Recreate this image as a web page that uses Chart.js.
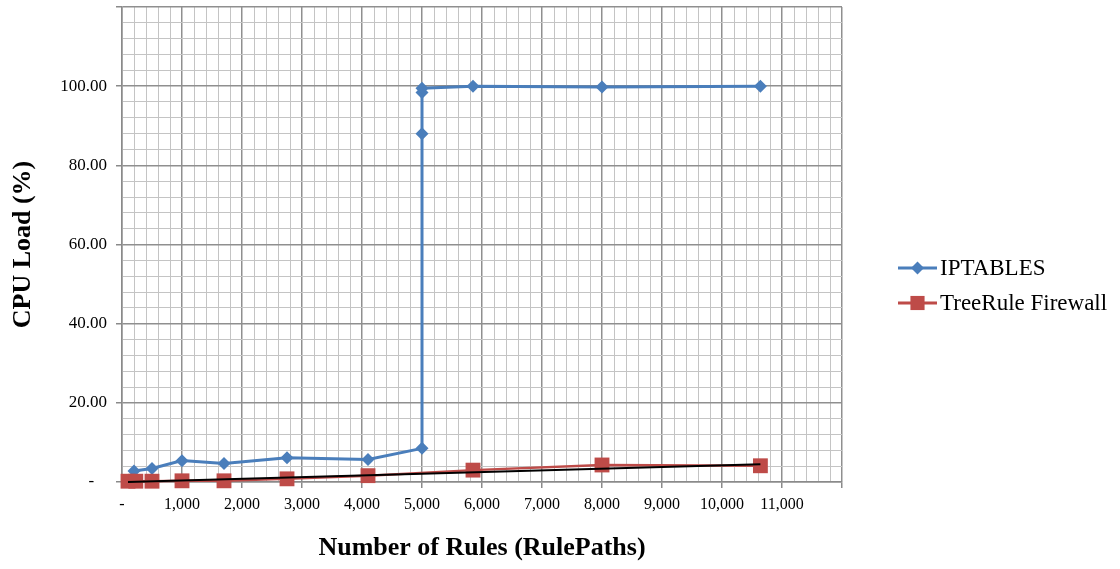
<!DOCTYPE html>
<html>
<head>
<meta charset="utf-8">
<script src="https://cdn.jsdelivr.net/npm/chart.js@4.4.1/dist/chart.umd.min.js"></script>
<style>
  html, body { margin: 0; padding: 0; background: #fff; }
  #wrap { width: 1120px; height: 569px; position: relative; }
</style>
</head>
<body>
<div id="wrap"><canvas id="chart"></canvas></div>
<script>
// ── Data ──────────────────────────────────────────────────────────────────────
const iptRules = [200, 500, 1000, 1700, 2750, 4100, 5000, 5000, 5000, 5000, 5850, 8000, 10640];
const iptLoad  = [2.8, 3.4, 5.4, 4.7, 6.1, 5.7, 8.5, 88.0, 98.4, 99.5, 100.0, 99.8, 100.0];

const treeRules = [100, 230, 500, 1000, 1700, 2750, 4100, 5850, 8000, 10640];
const treeLoad  = [0.2, 0.2, 0.2, 0.3, 0.3, 0.8, 1.6, 3.0, 4.3, 4.1];

// linear trendline of the TreeRule series (end points)
const trendRules = [100, 10640];
const trendLoad  = [0.0, 4.5];

const seriesNames = ["IPTABLES", "TreeRule Firewall"];

const X_MAX = 12000, X_MINOR = 200, X_MAJOR = 1000;
const Y_MAX = 120, Y_MINOR = 4, Y_MAJOR = 20;

// ── Helpers ───────────────────────────────────────────────────────────────────
const FONT = '"Liberation Serif", "Times New Roman", serif';
const BLUE = "#4a7ebb";
const RED = "#be4b48";

function toPoints(xs, ys) {
  return xs.map((x, i) => ({ x: x, y: ys[i] }));
}

function isMajor(v, step) {
  return Math.abs(v / step - Math.round(v / step)) < 1e-6;
}

// Excel-like legend: line + marker, then label
const legendPlugin = {
  id: "excelLegend",
  afterDraw(chart) {
    const ctx = chart.ctx;
    const items = [
      { label: seriesNames[0], color: BLUE, style: "rectRot", r: 6.5, y: 268 },
      { label: seriesNames[1], color: RED, style: "rect", r: 10, y: 303 }
    ];
    ctx.save();
    items.forEach(it => {
      ctx.strokeStyle = it.color;
      ctx.lineWidth = 3;
      ctx.beginPath();
      ctx.moveTo(898, it.y);
      ctx.lineTo(937, it.y);
      ctx.stroke();
      ctx.fillStyle = it.color;
      Chart.helpers.drawPoint(ctx, { pointStyle: it.style, radius: it.r, borderWidth: 0 }, 917.5, it.y);
      ctx.fillStyle = "#000";
      ctx.font = "23px " + FONT;
      ctx.textBaseline = "middle";
      ctx.textAlign = "left";
      ctx.fillText(it.label, 940, it.y + 1);
    });
    ctx.restore();
  }
};

// ── Chart ─────────────────────────────────────────────────────────────────────
new Chart(document.getElementById("chart"), {
  type: "scatter",
  data: {
    datasets: [
      {
        label: "Linear (TreeRule Firewall)",
        data: toPoints(trendRules, trendLoad),
        showLine: true,
        borderColor: "#000",
        borderWidth: 2,
        pointRadius: 0,
        clip: false,
        order: 0
      },
      {
        label: seriesNames[1],
        data: toPoints(treeRules, treeLoad),
        showLine: true,
        borderColor: RED,
        backgroundColor: RED,
        borderWidth: 2.5,
        pointStyle: "rect",
        pointRadius: 10.5,
        pointBorderWidth: 0,
        clip: false,
        order: 1
      },
      {
        label: seriesNames[0],
        data: toPoints(iptRules, iptLoad),
        showLine: true,
        borderColor: BLUE,
        backgroundColor: BLUE,
        borderWidth: 3,
        pointStyle: "rectRot",
        pointRadius: 6.5,
        pointBorderWidth: 0,
        clip: false,
        order: 2
      }
    ]
  },
  options: {
    responsive: true,
    maintainAspectRatio: false,
    animation: false,
    layout: { autoPadding: false, padding: { top: 7, right: 278, bottom: 0, left: 0 } },
    plugins: {
      legend: { display: false },
      tooltip: { enabled: false }
    },
    scales: {
      x: {
        type: "linear",
        min: 0,
        max: X_MAX,
        afterFit: s => { s.height = 87; s.paddingRight = 0; },
        border: { color: "#8a8a8a", width: 1.5 },
        grid: {
          color: c => isMajor(c.tick.value, X_MAJOR) ? "#8f8f8f" : "#c4c4c4",
          lineWidth: c => isMajor(c.tick.value, X_MAJOR) ? 1.5 : 1,
          tickColor: c => isMajor(c.tick.value, X_MAJOR) ? "#8a8a8a" : "rgba(0,0,0,0)",
          tickLength: 6
        },
        ticks: {
          stepSize: X_MINOR,
          autoSkip: false,
          maxRotation: 0,
          padding: 7,
          color: "#000",
          font: { family: FONT, size: 16 },
          callback: v => {
            if (!isMajor(v, X_MAJOR) || v >= X_MAX) return "";
            return v === 0 ? "-" : v.toLocaleString("en-US");
          }
        },
        title: {
          display: true,
          text: "Number of Rules (RulePaths)",
          color: "#000",
          font: { family: FONT, size: 26, weight: "bold" },
          padding: { top: 0, bottom: 5 }
        }
      },
      y: {
        type: "linear",
        min: 0,
        max: Y_MAX,
        afterFit: s => { s.width = 122; s.paddingTop = 0; },
        border: { color: "#8a8a8a", width: 1.5 },
        grid: {
          color: c => isMajor(c.tick.value, Y_MAJOR) ? "#8f8f8f" : "#c4c4c4",
          lineWidth: c => isMajor(c.tick.value, Y_MAJOR) ? 1.5 : 1,
          tickColor: c => isMajor(c.tick.value, Y_MAJOR) ? "#8a8a8a" : "rgba(0,0,0,0)",
          tickLength: 6
        },
        ticks: {
          stepSize: Y_MINOR,
          autoSkip: false,
          padding: 9,
          color: "#000",
          font: { family: FONT, size: 17 },
          callback: v => {
            if (!isMajor(v, Y_MAJOR) || v >= Y_MAX) return "";
            return v === 0 ? "-   " : v.toFixed(2);
          }
        },
        title: {
          display: true,
          text: "CPU Load (%)",
          color: "#000",
          font: { family: FONT, size: 26, weight: "bold" },
          padding: { top: 8, bottom: 0 }
        }
      }
    }
  },
  plugins: [legendPlugin]
});
</script>
</body>
</html>
